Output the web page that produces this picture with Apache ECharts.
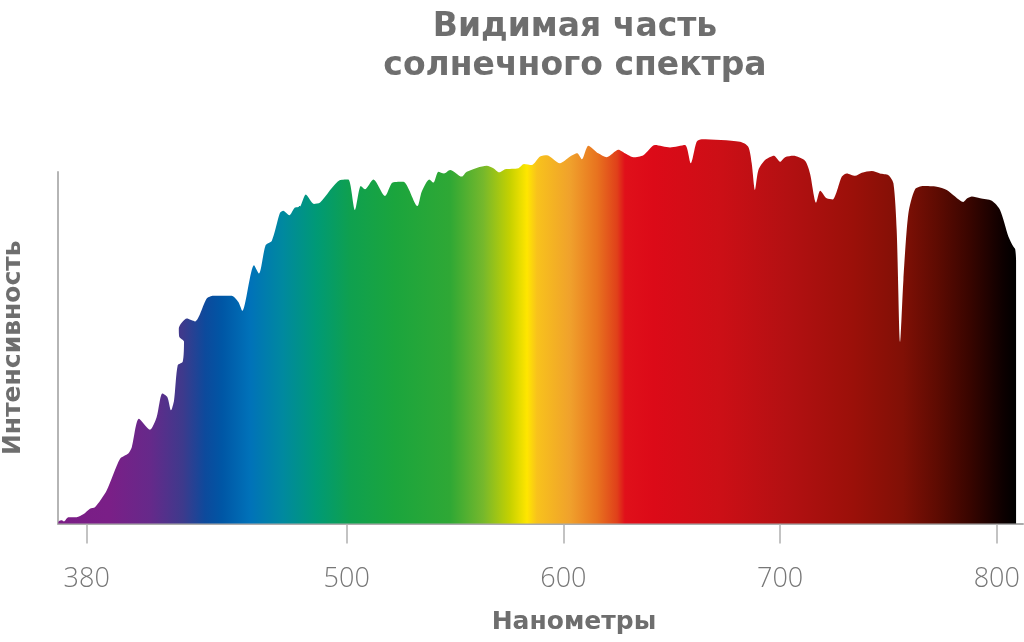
<!DOCTYPE html>
<html lang="ru">
<head>
	<meta charset="utf-8">
	<title>Видимая часть солнечного спектра</title>
	<script src="https://cdn.jsdelivr.net/npm/echarts@6/dist/echarts.min.js"></script>
	<style>
		html, body { margin: 0; padding: 0; background: #fff; }
		#spectrum { width: 1024px; height: 642px; }
	</style>
</head>
<body>
<div id="spectrum"></div>
<script>
    // длина волны, нм
    var wavelengths = [
        366.8, 367.2, 368.5, 369.5, 371.5, 375.4, 378.4, 381.5, 383.8, 389.2,
        395.4, 399.2, 400.8, 404.1, 409.2, 412.3, 414.9, 417.2, 418.9, 420.3,
        422.0, 424.3, 424.9, 422.7, 422.5, 426.2, 430.0, 435.4, 438.4, 446.9,
        450.0, 451.8, 457.2, 459.5, 462.6, 465.4, 469.2, 470.7, 473.5, 476.1,
        478.4, 481.1, 484.9, 487.7, 496.9, 500.7, 503.8, 506.5, 508.4, 512.3,
        517.7, 521.2, 526.1, 532.6, 534.6, 538.1, 540.0, 542.3, 544.9, 547.7,
        553.1, 555.4, 564.6, 567.7, 570.4, 573.1, 579.2, 581.8, 585.4, 589.2,
        592.3, 598.4, 603.1, 606.4, 608.5, 611.5, 616.1, 620.0, 625.4, 628.4,
        632.3, 636.9, 642.3, 649.2, 656.1, 658.8, 661.5, 663.8, 681.5, 685.3,
        686.9, 688.4, 690.0, 693.1, 697.2, 700.0, 702.3, 706.1, 711.5, 713.8,
        716.6, 718.5, 721.5, 724.3, 726.1, 728.5, 730.8, 734.6, 737.7, 742.3,
        746.1, 750.0, 752.3, 753.8, 755.4, 756.9, 759.2, 762.3, 766.1, 772.3,
        776.9, 780.0, 784.6, 786.4, 788.5, 792.3, 797.7, 801.5, 805.4, 807.7,
        808.5, 808.9, 808.9
    ];
    // относительная интенсивность
    var intensity = [
        0, 0.7, 0.9, 0.6, 1.8, 1.8, 2.6, 4.2, 4.6, 9.4,
        18.4, 19.9, 21.7, 29.8, 26.7, 30.3, 37.0, 36.0, 32.2, 35.0,
        45.0, 46.0, 51.7, 53.1, 55.5, 58.3, 57.5, 64.0, 64.8, 64.8,
        63.0, 60.5, 73.5, 71.1, 79.2, 80.4, 88.4, 89.0, 87.7, 89.9,
        90.1, 93.6, 90.9, 91.3, 97.7, 97.9, 89.2, 96.0, 95.1, 97.9,
        93.2, 97.0, 97.2, 90.3, 94.4, 97.9, 97.0, 100.1, 99.6, 100.6,
        98.7, 100.1, 101.8, 101.1, 99.9, 100.8, 101.1, 102.3, 102.0, 104.4,
        104.8, 102.5, 104.4, 105.3, 103.6, 107.5, 105.3, 104.2, 106.3, 105.3,
        104.2, 104.8, 107.7, 107.0, 107.7, 102.5, 108.6, 109.3, 108.6, 107.2,
        102.5, 94.9, 100.6, 103.4, 104.6, 102.9, 104.2, 104.6, 103.2, 99.6,
        91.3, 94.7, 92.5, 92.2, 94.4, 98.7, 99.6, 98.9, 99.8, 100.3,
        99.6, 99.1, 96.8, 83.5, 51.7, 69.2, 88.2, 95.1, 96.0, 95.8,
        94.9, 93.4, 91.5, 92.5, 93.0, 92.5, 91.8, 89.2, 81.6, 78.7,
        78.0, 74.9, 0
    ];
    var tickValues = [380, 500, 600, 700, 800];

    // цвета спектра по длине волны
    var stopNm = [
        366.8, 390.8, 409.2, 424.4, 434.6, 442.4, 455.4, 470.6, 486.3, 501.5,
        522.3, 547.7, 562.9, 575.4, 583.2, 587.8, 603.1, 615.5, 624.8, 628.4,
        641.4, 672.3, 703.2, 733.7, 756.8, 772.5, 787.7, 802.9, 808.9
    ];
    var stopColors = [
        '#7b1d86', '#7a1f87', '#66298a', '#3d3a8c', '#0d4a9c', '#0056a5', '#0072b9', '#00899f', '#009a75', '#0fa04f',
        '#1ba53d', '#2fa835', '#75b82c', '#c6d100', '#ffe600', '#f8c21c', '#f0a12c', '#e8731f', '#e0401a', '#e0101a',
        '#dc0a18', '#cc0f16', '#b31012', '#9b1009', '#801006', '#5e0b02', '#380500', '#0d0000', '#000000'
    ];

    var points = wavelengths.map(function (w, i) { return [w, intensity[i]]; });
    var first = stopNm[0], last = stopNm[stopNm.length - 1];
    var colorStops = stopNm.map(function (w, i) {
        return { offset: (w - first) / (last - first), color: stopColors[i] };
    });
    var fill = new echarts.graphic.LinearGradient(0, 0, 1, 0, colorStops);

    var chart = echarts.init(document.getElementById('spectrum'));
    var option = {
        animation: false,
        title: [{
            text: 'Видимая часть\nсолнечного спектра',
            left: 570,
            top: 3,
            textAlign: 'center',
            textStyle: {
                fontFamily: 'DejaVu Sans',
                fontWeight: 'bold',
                fontSize: 33,
                lineHeight: 39,
                color: '#6e6e6e'
            }
        }, {
            text: 'Нанометры',
            left: 569,
            top: 605,
            textAlign: 'center',
            textStyle: {
                fontFamily: 'DejaVu Sans',
                fontWeight: 'bold',
                fontSize: 25,
                color: '#6e6e6e'
            }
        }],
        grid: {
            left: 58,
            right: 1,
            top: 172,
            bottom: 118.5,
            outerBoundsMode: 'none'
        },
        xAxis: {
            type: 'value',
            min: 366.75,
            max: 812.1,
            axisLine: { lineStyle: { color: '#ababab', width: 2 } },
            axisTick: {
                customValues: tickValues,
                length: 20,
                lineStyle: { color: '#b0b0b0', width: 1.5 }
            },
            axisLabel: {
                customValues: tickValues,
                margin: 42,
                fontFamily: 'Open Sans',
                fontWeight: 300,
                fontSize: 27,
                color: '#777777'
            },
            splitLine: { show: false }
        },
        yAxis: {
            type: 'value',
            min: 0,
            max: 100,
            name: 'Интенсивность',
            nameLocation: 'middle',
            nameRotate: 90,
            nameGap: 32,
            nameTextStyle: {
                fontFamily: 'DejaVu Sans',
                fontWeight: 'bold',
                fontSize: 25,
                color: '#6e6e6e'
            },
            axisLine: { show: true, lineStyle: { color: '#b5b5b5', width: 2 } },
            axisTick: { show: false },
            axisLabel: { show: false },
            splitLine: { show: false }
        },
        series: [{
            type: 'line',
            data: points,
            smooth: 0.25,
            clip: false,
            showSymbol: false,
            lineStyle: { width: 0 },
            areaStyle: { color: fill, opacity: 1 },
            z: 1
        }]
    };
    chart.setOption(option);
</script>
</body>
</html>
